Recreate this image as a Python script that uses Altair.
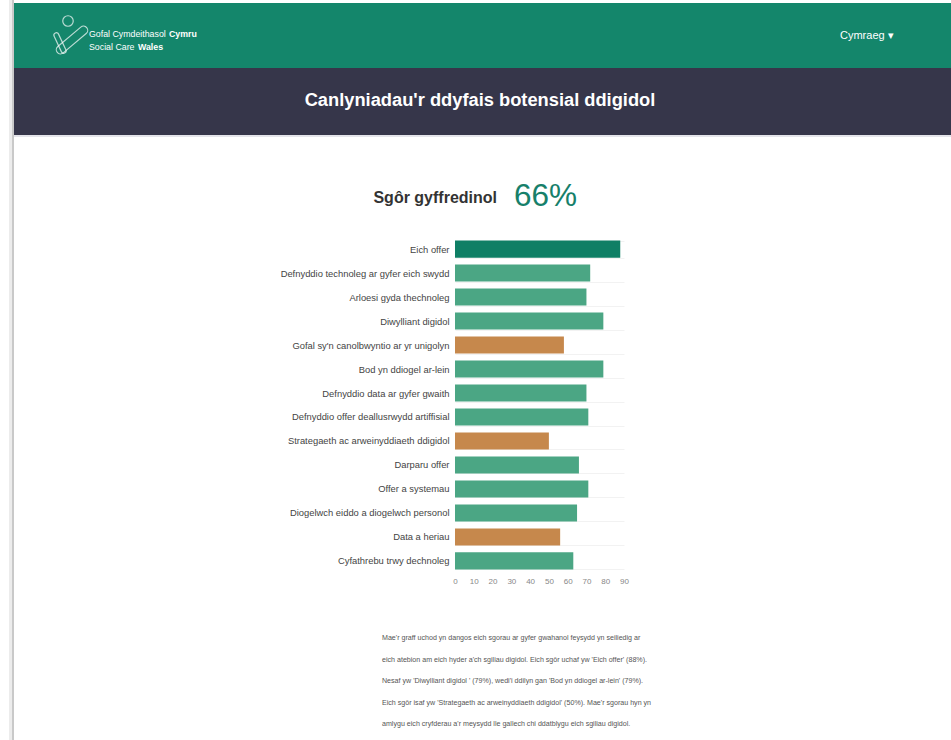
import altair as alt
import pandas as pd

# ---------------- data ----------------
categories = [
    "Eich offer",
    "Defnyddio technoleg ar gyfer eich swydd",
    "Arloesi gyda thechnoleg",
    "Diwylliant digidol",
    "Gofal sy'n canolbwyntio ar yr unigolyn",
    "Bod yn ddiogel ar-lein",
    "Defnyddio data ar gyfer gwaith",
    "Defnyddio offer deallusrwydd artiffisial",
    "Strategaeth ac arweinyddiaeth ddigidol",
    "Darparu offer",
    "Offer a systemau",
    "Diogelwch eiddo a diogelwch personol",
    "Data a heriau",
    "Cyfathrebu trwy dechnoleg",
]
scores = [88, 72, 70, 79, 58, 79, 70, 71, 50, 66, 71, 65, 56, 63]
groups = ["top", "high", "high", "high", "low", "high", "high", "high",
          "low", "high", "high", "high", "low", "high"]
x_ticks = [0, 10, 20, 30, 40, 50, 60, 70, 80, 90]

page_title = "Canlyniadau'r ddyfais botensial ddigidol"
score_label = "Sgôr gyffredinol"
overall_score = "66%"
summary_lines = [
    "Mae'r graff uchod yn dangos eich sgorau ar gyfer gwahanol feysydd yn seiliedig ar",
    "eich atebion am eich hyder a'ch sgiliau digidol. Eich sgôr uchaf yw 'Eich offer' (88%).",
    "Nesaf yw 'Diwylliant digidol ' (79%), wedi'i ddilyn gan 'Bod yn ddiogel ar-lein' (79%).",
    "Eich sgôr isaf yw 'Strategaeth ac arweinyddiaeth ddigidol' (50%). Mae'r sgorau hyn yn",
    "amlygu eich cryfderau a'r meysydd lle gallech chi ddatblygu eich sgiliau digidol.",
]

df = pd.DataFrame({"category": categories, "score": scores, "group": groups})
one = pd.DataFrame({"k": [0]})

# ---------------- layout ----------------
W_TOTAL, H_TOTAL = 951, 740
L, T, W, H = 455, 237, 169, 336
R = W_TOTAL - L - W
B = H_TOTAL - T - H

SANS = "Liberation Sans, Arial"
GREEN_HDR = "#14866b"
DARK_BAND = "#36364a"


def px(x):
    return x - L


def py(y):
    return y - T


def rect(x1, x2, y1, y2, color):
    return alt.Chart(one).mark_rect(color=color).encode(
        x=alt.value(px(x1)), x2=alt.value(px(x2)),
        y=alt.value(py(y1)), y2=alt.value(py(y2)))


def text(x, y, s, **kw):
    return alt.Chart(one).mark_text(text=s, **kw).encode(
        x=alt.value(px(x)), y=alt.value(py(y)))


layers = []
# page shadow on the left
layers.append(rect(9, 12, 0, 740, "#ececec"))
layers.append(rect(12, 14, 0, 740, "#c9c9c9"))
# header bands
layers.append(rect(14, 951, 3, 68, GREEN_HDR))
layers.append(rect(14, 951, 68, 135, DARK_BAND))
layers.append(rect(14, 951, 135, 137, "#e4e4ea"))

# logo
layers.append(alt.Chart(one).mark_point(shape="circle", size=110, filled=False,
                                        color="white", strokeWidth=1.2).encode(
    x=alt.value(px(68)), y=alt.value(py(21))))
capsule = "M-1,-0.28 L1,-0.28 A0.28,0.28 0 0 1 1,0.28 L-1,0.28 A0.28,0.28 0 0 1 -1,-0.28 Z"
layers.append(alt.Chart(one).mark_point(shape=capsule, size=900, filled=False, angle=320,
                                        color="white", strokeWidth=1.2).encode(
    x=alt.value(px(72)), y=alt.value(py(40))))
layers.append(alt.Chart(one).mark_point(shape=capsule, size=300, filled=False, angle=65,
                                        color="white", strokeWidth=1.2).encode(
    x=alt.value(px(60)), y=alt.value(py(43))))

layers.append(text(89, 37, "Gofal Cymdeithasol", font=SANS, fontSize=8.8,
                   color="white", align="left", baseline="alphabetic"))
layers.append(text(169, 37, "Cymru", font=SANS, fontSize=8.8, fontWeight="bold",
                   color="white", align="left", baseline="alphabetic"))
layers.append(text(89, 50, "Social Care", font=SANS, fontSize=8.8,
                   color="white", align="left", baseline="alphabetic"))
layers.append(text(138, 50, "Wales", font=SANS, fontSize=8.8, fontWeight="bold",
                   color="white", align="left", baseline="alphabetic"))
layers.append(text(840, 36, "Cymraeg ▾", font=SANS, fontSize=11,
                   color="white", align="left", baseline="middle"))

# page title
layers.append(text(480, 101, page_title, font=SANS, fontSize=18.3, fontWeight="bold",
                   color="white", align="center", baseline="middle"))

# overall score
layers.append(text(497, 198, score_label, font=SANS, fontSize=16, fontWeight="bold",
                   color="#333333", align="right", baseline="middle"))
layers.append(text(514, 197, overall_score, font=SANS, fontSize=31.5,
                   color="#17806a", align="left", baseline="middle"))

# summary paragraph
layers.append(alt.Chart(one).mark_text(text=summary_lines, font=SANS, fontSize=7.1,
                                       color="#555555", align="left", baseline="alphabetic",
                                       lineHeight=21.6).encode(
    x=alt.value(px(382)), y=alt.value(py(640))))

# bars
bars = alt.Chart(df).mark_bar().encode(
    y=alt.Y("category:N", sort=categories, title=None,
            scale=alt.Scale(paddingInner=0.29, paddingOuter=0.15),
            axis=alt.Axis(labelFont=SANS, labelFontSize=9.4, labelColor="#444444",
                          labelPadding=6, ticks=False, domain=False, grid=True,
                          tickBand="extent", gridColor="#f2f2f2", labelLimit=300)),
    x=alt.X("score:Q", title=None,
            scale=alt.Scale(domain=[0, 90], nice=False),
            axis=alt.Axis(values=x_ticks, labelFont=SANS, labelFontSize=8,
                          labelColor="#888888", ticks=False, domain=False, grid=False,
                          labelPadding=4, labelFlush=False)),
    color=alt.Color("group:N", legend=None,
                    scale=alt.Scale(domain=["top", "high", "low"],
                                    range=["#0f7f65", "#4ba684", "#c6884c"])),
)
layers.append(bars)

chart = alt.layer(*layers).properties(
    width=W, height=H,
    padding={"left": L, "top": T, "right": R, "bottom": B},
    autosize=alt.AutoSizeParams(type="none"),
    background="white",
).configure_view(stroke=None)

chart.save("out.html", embed_options={"renderer": "svg", "actions": False})
